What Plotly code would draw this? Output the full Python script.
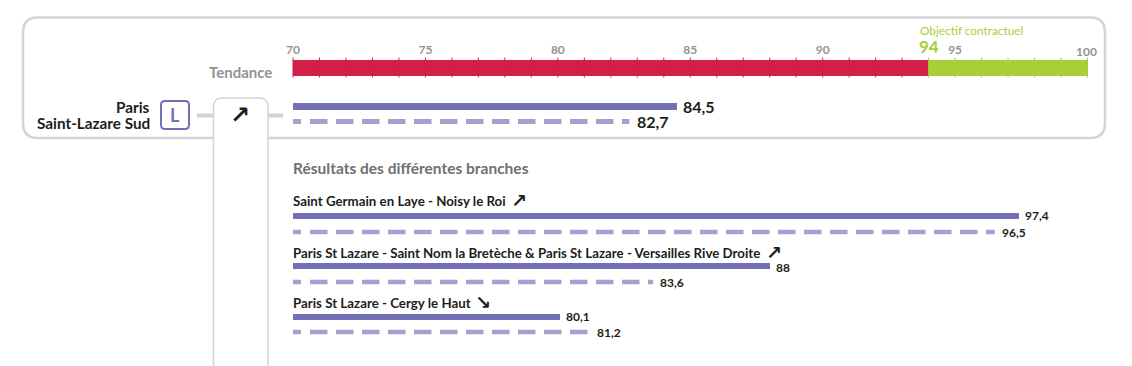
import plotly.graph_objects as go

W, H = 1132, 366
X0, X1 = 293.0, 1087.5          # pixel positions of 70 and 100
PPU = (X1 - X0) / 30

scale_min = 70
scale_max = 100
objective = 94
scale_ticks = list(range(70, 101))
major_ticks = [70, 75, 80, 85, 90, 95]

main_name = ["Paris", "Saint-Lazare Sud"]
main_current = 84.5
main_previous = 82.7
branch_names = [
    "Saint Germain en Laye - Noisy le Roi",
    "Paris St Lazare - Saint Nom la Bretèche & Paris St Lazare - Versailles Rive Droite",
    "Paris St Lazare - Cergy le Haut",
]
branch_current = [97.4, 88, 80.1]
branch_previous = [96.5, 83.6, 81.2]
branch_trend = ["↗", "↗", "↘"]
branch_current_text = ["97,4", "88", "80,1"]
branch_previous_text = ["96,5", "83,6", "81,2"]

PURPLE, LILAC = "#7370b5", "#a69fd0"
RED, GREEN = "#d21f47", "#a8cf38"
BORDER, GREY, DARK = "#d4d4d4", "#939393", "#1d1d1b"
FONT = "Lato"
DASH = "8px 9px " + " ".join(["17.5px 8.5px"] * 45)

fig = go.Figure()


def band(start, end, color):
    fig.add_trace(go.Bar(x=[end - start], base=[start], y=[67.5], width=[16], orientation="h",
                         marker=dict(color=color, line_width=0), showlegend=False, hoverinfo="skip"))


band(scale_min, objective, RED)
band(objective, scale_max, GREEN)
for colour, ticks in ((RED, [t for t in scale_ticks if t < objective]),
                      (GREEN, [t for t in scale_ticks if t >= objective])):
    xs, ys = [], []
    for t in ticks:
        xs += [t, t, None]
        ys += [57.5, 77.5, None]
    fig.add_trace(go.Scatter(x=xs, y=ys, mode="lines", line=dict(color=colour, width=1),
                             showlegend=False, hoverinfo="skip"))


def solid(value, y, h):
    fig.add_trace(go.Bar(x=[value - scale_min], base=[scale_min], y=[y], width=[h], orientation="h",
                         marker=dict(color=PURPLE, line_width=0), showlegend=False, hoverinfo="skip"))


def dashed(value, y, w):
    fig.add_trace(go.Scatter(x=[scale_min, value], y=[y, y], mode="lines",
                             line=dict(color=LILAC, width=w, dash=DASH),
                             showlegend=False, hoverinfo="skip"))


solid(main_current, 106.5, 6.5)
dashed(main_previous, 121.5, 5)
branch_rows = [(216, 232), (266, 282), (316.5, 332)]
for cur, prev, (yc, yp) in zip(branch_current, branch_previous, branch_rows):
    solid(cur, yc, 6)
    dashed(prev, yp, 4.5)


def dx(p):
    return scale_min + (p - X0) / PPU


def rr(x0, y0, x1, y1, r):
    a, b, ar = dx(x0), dx(x1), r / PPU
    return (f"M {a+ar} {y0} L {b-ar} {y0} Q {b} {y0} {b} {y0+r} L {b} {y1-r} Q {b} {y1} {b-ar} {y1} "
            f"L {a+ar} {y1} Q {a} {y1} {a} {y1-r} L {a} {y0+r} Q {a} {y0} {a+ar} {y0} Z")


shapes = [
    dict(type="path", path=rr(23, 17.5, 1105, 138, 15), line=dict(color=BORDER, width=2.5),
         fillcolor="white", layer="below"),
    dict(type="line", x0=dx(197), x1=dx(283), y0=115.5, y1=115.5,
         line=dict(color=BORDER, width=4), layer="below"),
]
a, b, r = dx(213.5), dx(268), 9 / PPU
shapes.append(dict(type="path",
                   path=(f"M {a} 372 L {a} 107 Q {a} 98 {a+r} 98 L {b-r} 98 Q {b} 98 {b} 107 L {b} 372 Z"),
                   line=dict(color=BORDER, width=1.5), fillcolor="white", layer="below"))
shapes.append(dict(type="path", path=rr(161, 101, 189, 129, 4), line=dict(color=PURPLE, width=2),
                   fillcolor="white", layer="below"))

ann = []


def text(x, y, s, size, color=DARK, bold=True, anchor="left", family=FONT, xshift=0):
    ann.append(dict(x=x, y=y, xref="x", yref="y", text=f"<b>{s}</b>" if bold else s, showarrow=False,
                    xanchor=anchor, yanchor="middle", align=anchor, xshift=xshift,
                    font=dict(family=family, size=size, color=color)))


text(dx(274), 72, "Tendance", 15, GREY, anchor="right")
text(dx(152), 107, main_name[0], 15.3, anchor="right")
text(dx(152), 122.5, main_name[1], 15.3, anchor="right")
text(dx(175), 115, "L", 18, PURPLE, anchor="center")
text(dx(240), 115, "↗", 24, DARK, anchor="center", family="DejaVu Sans")
text(objective, 46, str(objective), 17, GREEN, anchor="center")
text(dx(917.5), 30, "Objectif contractuel", 11.8, GREEN, bold=False)
text(dx(1086), 51, str(scale_max), 12, GREY, anchor="center")
text(dx(291), 168, "Résultats des différentes branches", 15.5, "#6f6f6f")
text(main_current, 106, f"{main_current}".replace(".", ","), 16, xshift=4)
text(main_previous, 121.5, f"{main_previous}".replace(".", ","), 16, xshift=6)
name_y = [201, 253, 303]
trend_x = [519, 774, 483]
current_label_y = [215, 267.5, 316]
for i, name in enumerate(branch_names):
    text(dx(291), name_y[i], name, 13.3)
    text(dx(trend_x[i]), name_y[i] - 1, branch_trend[i], 19, DARK, anchor="center", family="DejaVu Sans")
    text(branch_current[i], current_label_y[i], branch_current_text[i], 12, xshift=4)
    text(branch_previous[i], branch_rows[i][1], branch_previous_text[i], 12, xshift=5)

fig.update_layout(
    width=W, height=H, margin=dict(l=0, r=0, t=0, b=0), autosize=False,
    paper_bgcolor="white", plot_bgcolor="white", showlegend=False, barmode="overlay",
    bargap=0, shapes=shapes, annotations=ann,
    xaxis=dict(range=[dx(0), dx(W)], domain=[0, 1], anchor="free", position=1 - 56 / H, side="top",
               tickmode="array", tickvals=major_ticks, ticktext=[str(t) for t in major_ticks],
               ticks="", showgrid=False, zeroline=False, showline=False,
               tickfont=dict(family=FONT, size=12, color=GREY, weight="bold")),
    yaxis=dict(range=[H, 0], domain=[0, 1], visible=False, showgrid=False, zeroline=False),
)
fig.write_html("out.html", config={"displayModeBar": False},
               post_script="document.body.style.margin='0';document.body.style.overflow='hidden';")
